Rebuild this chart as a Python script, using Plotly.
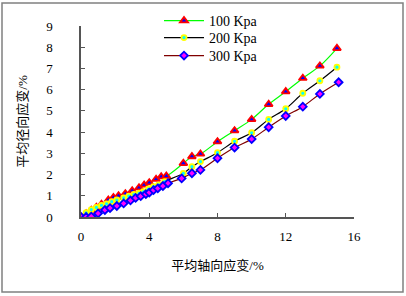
import plotly.graph_objects as go

# ---- data ----
x100 = [0.0, 0.3, 0.6, 0.9, 1.2, 1.6, 1.9, 2.2, 2.6, 3.0, 3.4, 3.7, 4.0, 4.4, 4.7, 5.0,
        6.0, 6.5, 7.0, 8.0, 9.0, 10.0, 11.0, 12.0, 13.0, 14.0, 15.0]
y100 = [0.0, 0.15, 0.32, 0.46, 0.6, 0.8, 0.92, 1.0, 1.1, 1.24, 1.38, 1.51, 1.62, 1.78, 1.9, 1.93,
        2.53, 2.85, 2.97, 3.55, 4.07, 4.6, 5.31, 5.91, 6.54, 7.12, 7.95]

x200 = [0.0, 0.3, 0.6, 0.9, 1.2, 1.5, 1.8, 2.1, 2.5, 2.8, 3.1, 3.4, 3.65, 3.95, 4.25, 4.55, 4.9,
        6.0, 6.5, 7.0, 8.0, 9.0, 10.0, 11.0, 12.0, 13.0, 14.0, 15.0]
y200 = [0.0, 0.2, 0.35, 0.45, 0.55, 0.62, 0.72, 0.8, 0.9, 0.98, 1.06, 1.12, 1.19, 1.32, 1.43, 1.51, 1.67,
        2.06, 2.37, 2.61, 3.03, 3.57, 3.97, 4.6, 5.1, 5.83, 6.42, 7.06]

x300 = [0.0, 0.3, 0.6, 1.0, 1.4, 1.7, 2.1, 2.5, 2.9, 3.2, 3.5, 3.8, 4.0, 4.25, 4.5, 4.8, 5.1,
        5.9, 6.5, 7.0, 8.0, 9.0, 10.0, 11.0, 12.0, 13.0, 14.0, 15.1]
y300 = [0.0, 0.0, 0.02, 0.17, 0.33, 0.42, 0.52, 0.64, 0.78, 0.9, 0.98, 1.08, 1.15, 1.27, 1.35, 1.46, 1.59,
        1.82, 2.06, 2.22, 2.77, 3.27, 3.67, 4.23, 4.76, 5.2, 5.8, 6.35]

series_names = ["100 Kpa", "200 Kpa", "300 Kpa"]
x_ticks = [0, 4, 8, 12, 16]
y_ticks = list(range(0, 10))
x_title = "平均轴向应变/%"
y_title = "平均径向应变/%"

FONT = "Liberation Serif, Times New Roman, Noto Sans CJK SC, serif"

fig = go.Figure()
fig.add_trace(go.Scatter(
    x=x100, y=y100, name=series_names[0], mode="lines+markers", legend="legend",
    line=dict(color="#00FF00", width=1.2, shape="spline"),
    marker=dict(symbol="triangle-up", size=7, color="#0000FF",
                line=dict(color="#FF0000", width=1.8))))
fig.add_trace(go.Scatter(
    x=x200, y=y200, name=series_names[1], mode="lines+markers", legend="legend2",
    line=dict(color="#000000", width=1.2, shape="spline"),
    marker=dict(symbol="circle", size=5, color="#00FFFF",
                line=dict(color="#FFFF00", width=1.8))))
fig.add_trace(go.Scatter(
    x=x300, y=y300, name=series_names[2], mode="lines+markers", legend="legend3",
    line=dict(color="#800000", width=1.2, shape="spline"),
    marker=dict(symbol="diamond", size=6, color="#FF00FF",
                line=dict(color="#0000FF", width=1.8))))

L, R, T, B = 81, 52, 26, 79
pw = 406 - L - R
ph = 296 - T - B

def px_x(p):
    return (p - L) / pw

def px_y(p):
    return (296 - B - p) / ph

def legend_at(row_y):
    return dict(x=px_x(159), y=px_y(row_y), xanchor="left", yanchor="middle",
                bgcolor="rgba(0,0,0,0)", font=dict(size=14, family=FONT),
                itemwidth=40, borderwidth=0)

fig.update_layout(
    width=406, height=296,
    margin=dict(l=L, r=R, t=T, b=B, autoexpand=False),
    paper_bgcolor="white", plot_bgcolor="white",
    font=dict(family=FONT, size=13, color="black"),
    showlegend=True,
    legend=legend_at(21),
    legend2=legend_at(38),
    legend3=legend_at(56),
    xaxis=dict(range=[0, 16], tickvals=x_ticks, ticktext=[str(v) for v in x_ticks],
               showgrid=False, zeroline=False, showline=True, linecolor="#555555",
               linewidth=1.5, ticks="inside", ticklen=4, tickcolor="#555555",
               ticklabelstandoff=7, automargin=False,
               title=dict(text=x_title, font=dict(size=13, family=FONT), standoff=18),
               tickfont=dict(size=13, family=FONT)),
    yaxis=dict(range=[0, 9], tickvals=y_ticks, ticktext=[str(v) for v in y_ticks],
               showgrid=False, zeroline=False, showline=True, linecolor="#555555",
               linewidth=1.5, ticks="inside", ticklen=4, tickcolor="#555555",
               ticklabelstandoff=24, automargin=False,
               title=dict(text=y_title, font=dict(size=13, family=FONT), standoff=16),
               tickfont=dict(size=13, family=FONT)),
    shapes=[dict(type="rect", xref="paper", yref="paper",
                 x0=px_x(2), x1=px_x(403), y0=px_y(292), y1=px_y(3),
                 line=dict(color="#808080", width=1.5), fillcolor="rgba(0,0,0,0)",
                 layer="above")],
)

fig.write_html("out.html", config={"displayModeBar": False},
               post_script="document.body.style.margin='0';document.body.style.padding='0';")
